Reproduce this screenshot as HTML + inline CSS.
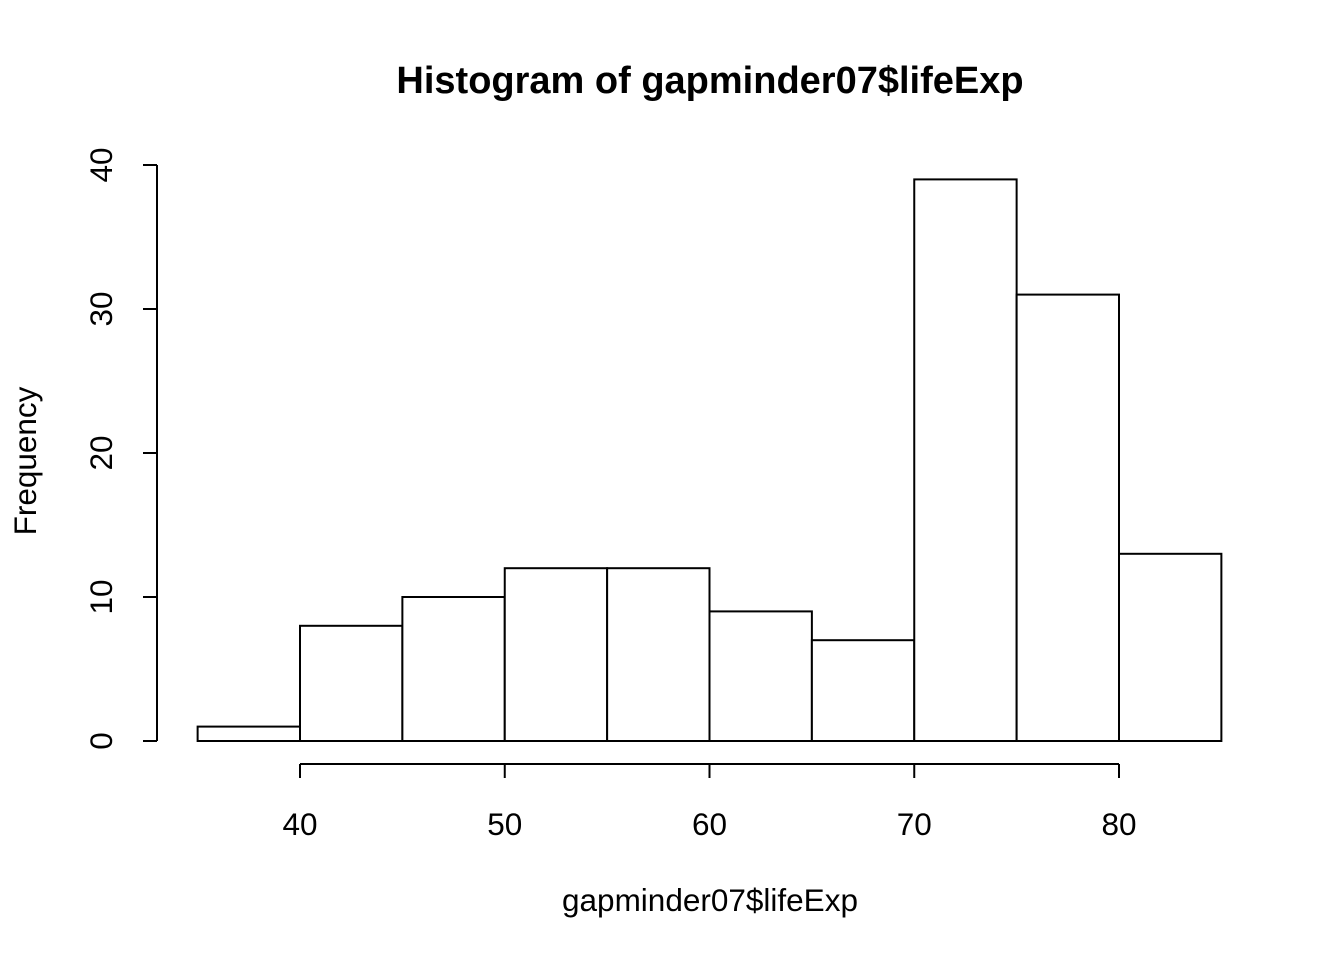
<!DOCTYPE html>
<html>
<head>
<meta charset="utf-8">
<style>
html,body{margin:0;padding:0;background:#fff;}
svg{display:block;font-family:"Liberation Sans",Arial,sans-serif;}
</style>
</head>
<body>
<svg id="chart" width="1344" height="960" viewBox="0 0 1344 960">
  <text x="710" y="93" text-anchor="middle" font-size="38" font-weight="bold">Histogram of gapminder07$lifeExp</text>
  <text x="710" y="911" text-anchor="middle" font-size="31.5">gapminder07$lifeExp</text>
  <text transform="translate(36,461) rotate(-90)" text-anchor="middle" font-size="31.5">Frequency</text>
  <g id="bars"></g>
  <g id="xaxis"></g>
  <g id="yaxis"></g>
</svg>
<script>
const binStarts = [35,40,45,50,55,60,65,70,75,80];
const binWidth = 5;
const counts = [1,8,10,12,12,9,7,39,31,13];
const xTicks = [40,50,60,70,80];
const yTicks = [0,10,20,30,40];

const NS = "http://www.w3.org/2000/svg";
function sx(v){ return 300 + (v-40)*(1119-300)/40; }
function sy(v){ return 741 - v*(741-165)/40; }
function mk(tag, attrs, parent){
  const e = document.createElementNS(NS, tag);
  for (const k in attrs) e.setAttribute(k, attrs[k]);
  parent.appendChild(e);
  return e;
}
const bars = document.getElementById('bars');
binStarts.forEach((b,i)=>{
  const x0 = sx(b), x1 = sx(b+binWidth), y = sy(counts[i]);
  const r = mk('rect',{x:x0,y:y,width:x1-x0,height:sy(0)-y,fill:'#fff',stroke:'#000','stroke-width':2},bars);
  
  
});
const xa = document.getElementById('xaxis');
const xl = mk('line',{x1:sx(xTicks[0]),x2:sx(xTicks[xTicks.length-1]),y1:764,y2:764,stroke:'#000','stroke-width':2},xa);


xTicks.forEach(t=>{
  const l = mk('line',{x1:sx(t),x2:sx(t),y1:764,y2:778,stroke:'#000','stroke-width':2},xa);
  
  
  const tx = mk('text',{x:sx(t),y:835,'text-anchor':'middle','font-size':31.5},xa);
  tx.textContent = t;
  
  
});
const ya = document.getElementById('yaxis');
const yl = mk('line',{x1:157,x2:157,y1:sy(yTicks[0]),y2:sy(yTicks[yTicks.length-1]),stroke:'#000','stroke-width':2},ya);


yTicks.forEach(t=>{
  const l = mk('line',{x1:143,x2:157,y1:sy(t),y2:sy(t),stroke:'#000','stroke-width':2},ya);
  
  
  const tx = mk('text',{transform:'translate(112,'+sy(t)+') rotate(-90)','text-anchor':'middle','font-size':31.5},ya);
  tx.textContent = t;
  
  
});
</script>
</body>
</html>
